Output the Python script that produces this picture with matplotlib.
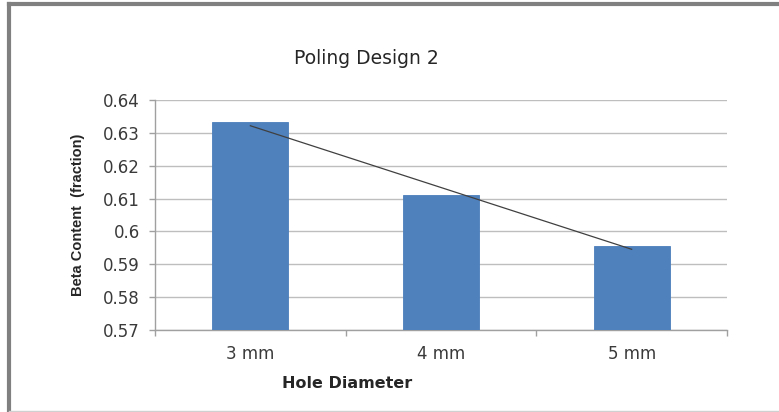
import numpy as np
import matplotlib.pyplot as plt
from matplotlib.lines import Line2D

categories = ["3 mm", "4 mm", "5 mm"]
beta_content = [0.6333, 0.6111, 0.5957]
y_ticks = [0.57, 0.58, 0.59, 0.6, 0.61, 0.62, 0.63, 0.64]
y_tick_labels = ["0.57", "0.58", "0.59", "0.6", "0.61", "0.62", "0.63", "0.64"]

plt.rcParams['font.family'] = ['DejaVu Sans']

fig = plt.figure(figsize=(7.79, 4.12), dpi=100)
ax = fig.add_axes([155 / 779, 1 - 330 / 412, 572 / 779, 230 / 412])

xs = np.arange(len(categories))
ax.bar(xs, beta_content, width=0.4, color="#4F81BD", edgecolor="#4A7EBB",
       linewidth=0.6, zorder=3)

# linear trend line through the bar values
m, b = np.polyfit(xs, beta_content, 1)
ax.plot(xs[[0, -1]], m * xs[[0, -1]] + b, color="#404040", linewidth=0.9, zorder=4)

ax.set_xlim(-0.5, len(categories) - 0.5)
ax.set_ylim(0.57, 0.64)
ax.set_yticks(y_ticks)
ax.set_yticklabels(y_tick_labels)
ax.yaxis.grid(True, color="#BEBEBE", linewidth=1.0, zorder=0)

ax.set_xticks(xs)
ax.set_xticklabels(categories)
ax.set_xticks(np.arange(-0.5, len(categories)), minor=True)
ax.tick_params(axis="x", which="major", length=0, pad=11, labelsize=12, labelcolor="#3A3A3A")
ax.tick_params(axis="x", which="minor", length=4, color="#A0A0A0", width=1)
ax.tick_params(axis="y", length=4, color="#A0A0A0", width=1, pad=7, labelsize=12,
               labelcolor="#3A3A3A")

for side in ["top", "right"]:
    ax.spines[side].set_visible(False)
for side in ["left", "bottom"]:
    ax.spines[side].set_color("#A0A0A0")
    ax.spines[side].set_linewidth(1.0)

fig.text(366 / 779, 1 - 58 / 412, "Poling Design 2", ha="center", va="center",
         fontsize=13.5, color="#262626")
fig.text(347 / 779, 1 - 384 / 412, "Hole Diameter", ha="center", va="center",
         fontsize=11.5, fontweight="bold", color="#262626")
fig.text(78 / 779, 1 - 215 / 412, "Beta Content  (fraction)", ha="center", va="center",
         rotation=90, fontsize=10.5, fontweight="bold", color="#262626",
         family=["Liberation Sans Narrow", "Liberation Sans", "DejaVu Sans"])

# chart frame
fig.add_artist(Line2D([9 / 779, 9 / 779], [0, 1 - 4 / 412], transform=fig.transFigure,
                      color="#808080", linewidth=3))
fig.add_artist(Line2D([9 / 779, 1], [1 - 4 / 412, 1 - 4 / 412], transform=fig.transFigure,
                      color="#808080", linewidth=3))
fig.add_artist(Line2D([9 / 779, 1], [1 / 412, 1 / 412], transform=fig.transFigure,
                      color="#D0D0D0", linewidth=1))

fig.savefig("out.png", dpi=100)
